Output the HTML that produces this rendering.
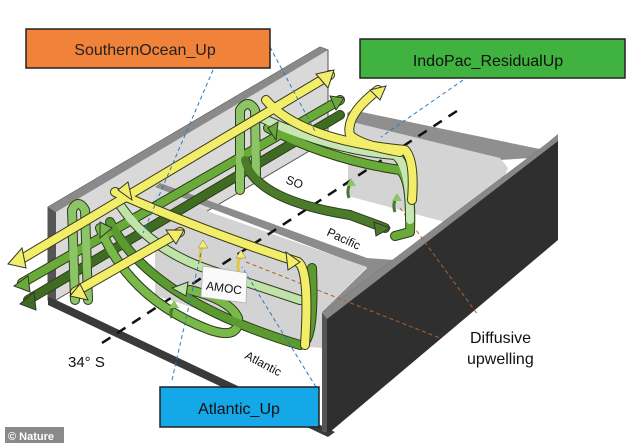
<!DOCTYPE html>
<html><head><meta charset="utf-8"><style>
html,body{margin:0;padding:0;background:#fff;}
svg{display:block;font-family:"Liberation Sans",sans-serif;}
</style></head><body>
<svg width="634" height="443" viewBox="0 0 634 443" xmlns="http://www.w3.org/2000/svg">
<rect width="634" height="443" fill="#fff"/>
<!-- back-left wall -->
<polygon points="48,207 320,47 328,50 328,140 56,300 48,300" fill="#d9d9d9" stroke="#555" stroke-width="1"/>
<polygon points="48,207 320,47 328,50 56,212" fill="#8a8a8a"/>
<polygon points="48,207 56,212 56,305 48,300" fill="#555"/>
<!-- bottom dark strip -->
<polygon points="48,297 56,300 335,432 328,437 48,305" fill="#3a3a3a"/>
<!-- pacific back block -->
<polygon points="347,113 352,110 525,146 540,149 558,134 558,140 530,158 500,160 348,121" fill="#8f8f8f"/>
<polygon points="348,121 500,158 508,168 504,178 445,222 348,196" fill="#d4d4d4"/>
<!-- divider top -->
<polygon points="155,187 160,183 367,258 420,262 440,255 327,316 322,312 367,268" fill="#8c8c8c"/>
<!-- divider face -->
<polygon points="155,193 367,267 322,312 322,348 310,347 155,295" fill="#d3d3d3"/>
<!-- right dark wall -->
<polygon points="322,313 558,135 558,240 330,432 322,432" fill="#2f2f2f"/>
<polygon points="322,313 558,135 558,141 327,319" fill="#888"/>
<polygon points="322,313 327,319 327,432 322,432" fill="#555"/>
<!-- dashed lines -->
<line x1="102" y1="343" x2="463" y2="107" stroke="#111" stroke-width="2.5" stroke-dasharray="10,8"/>
<g stroke="#b0602a" stroke-width="1" stroke-dasharray="4,3" fill="none">
<line x1="246" y1="262" x2="440" y2="338"/>
<line x1="400" y1="208" x2="478" y2="315"/>
</g>
<g fill="none" stroke-linecap="round" stroke-linejoin="round">
<g stroke="#2d3d1a" stroke-width="10">
<path d="M28,300 L340,115"/>
<path d="M22,283 L340,100"/>
<path d="M75,300 L72,210 Q78,198 85,210 L88,300"/>
<path d="M240,190 L240,110 Q248,98 255,110 L256,175"/>
<path d="M100,228 Q130,300 210,330 Q240,340 238,318 Q230,300 190,290"/>
<path d="M110,222 Q150,300 300,345 Q315,345 312,268"/>
<path d="M120,205 Q150,250 210,270 L300,300"/>
<path d="M245,160 Q255,200 350,215 L385,228"/>
<path d="M268,128 Q330,160 400,170 Q412,180 410,232 L395,236"/>
<path d="M262,118 Q330,150 395,155 Q410,165 410,220"/>
</g>
<g stroke-width="8">
<path d="M28,300 L340,115" stroke="#3f6b22"/>
<path d="M22,283 L340,100" stroke="#6aaa38"/>
<path d="M75,300 L72,210 Q78,198 85,210 L88,300" stroke="#8cc466"/>
<path d="M240,190 L240,110 Q248,98 255,110 L256,175" stroke="#8cc466"/>
<path d="M100,228 Q130,300 210,330 Q240,340 238,318 Q230,300 190,290" stroke="#79b94a"/>
<path d="M110,222 Q150,300 300,345 Q315,345 312,268" stroke="#5b9a30"/>
<path d="M120,205 Q150,250 210,270 L300,300" stroke="#bfe3a8"/>
<path d="M245,160 Q255,200 350,215 L385,228" stroke="#4a7a2a"/>
<path d="M268,128 Q330,160 400,170 Q412,180 410,232 L395,236" stroke="#6aaa38"/>
<path d="M262,118 Q330,150 395,155 Q410,165 410,220" stroke="#c7e6b4"/>
</g>
<g stroke="#3a3a1a" stroke-width="10">
<path d="M20,260 L330,75"/>
<path d="M75,292 L180,232"/>
<path d="M115,192 Q200,230 298,262 Q310,270 305,345"/>
<path d="M266,100 Q300,140 405,150 Q415,160 412,200"/>
<path d="M378,90 Q345,115 350,135 Q360,145 400,152"/>
</g>
<g stroke="#f3ee6a" stroke-width="8">
<path d="M20,260 L330,75"/>
<path d="M75,292 L180,232"/>
<path d="M115,192 Q200,230 298,262 Q310,270 305,345" />
<path d="M266,100 Q300,140 405,150 Q415,160 412,200"/>
<path d="M378,90 Q345,115 350,135 Q360,145 400,152"/>
</g>
</g>
<g stroke="#333" stroke-width="1">
<polygon points="8,264 22,248 26,268" fill="#f3ee6a"/>
<polygon points="334,70 316,74 328,88" fill="#f3ee6a"/>
<polygon points="184,230 166,230 176,244" fill="#f3ee6a"/>
<polygon points="70,296 80,284 88,300" fill="#f3ee6a"/>
<polygon points="300,262 286,252 288,270" fill="#f3ee6a"/>
<polygon points="386,86 370,90 380,100" fill="#f3ee6a"/>
<polygon points="118,190 128,182 132,200" fill="#f3ee6a"/>
<polygon points="14,286 28,276 30,292" fill="#6aaa38"/>
<polygon points="20,304 34,292 36,310" fill="#3f6b22"/>
<polygon points="344,98 330,96 336,110" fill="#6aaa38"/>
<polygon points="390,228 374,222 376,236" fill="#4a7a2a"/>
<polygon points="268,128 278,122 276,140" fill="#6aaa38"/>
<polygon points="100,222 112,228 100,238" fill="#79b94a"/>
<polygon points="172,288 188,282 186,296" fill="#bfe3a8"/>
</g>
<g stroke="#4a7a2a" stroke-width="3" fill="none">
<path d="M172,318 q-3,-6 2,-12"/><path d="M349,198 q-3,-8 2,-16"/><path d="M395,212 q-3,-8 2,-16"/>
</g>
<g fill="#8cc466"><polygon points="174,300 169,308 179,308"/><polygon points="351,178 346,186 356,186"/><polygon points="397,193 392,201 402,201"/></g>
<g stroke="#e0c840" stroke-width="3" fill="none"><path d="M201,262 q-3,-8 2,-16"/><path d="M239,272 q-3,-8 2,-16"/></g>
<g fill="#f3ee6a" stroke="#777" stroke-width=".5"><polygon points="203,240 198,248 208,248"/><polygon points="241,250 236,258 246,258"/></g>
<g stroke="#2a7ac0" stroke-width="1" stroke-dasharray="4,3" fill="none">
<line x1="270" y1="47" x2="316" y2="133"/>
<line x1="213" y1="70" x2="143" y2="233"/>
<line x1="463" y1="80" x2="381" y2="137"/>
<line x1="172" y1="380" x2="201" y2="253"/>
<line x1="316" y1="387" x2="242" y2="267"/>
</g>
<polygon points="203,266 247,273 246,303 201,297" fill="#fafafa" stroke="#aaa" stroke-width=".7"/>
<text x="224" y="292" font-size="12" text-anchor="middle" transform="rotate(8 224 288)" fill="#111">AMOC</text>
<text x="285" y="183" font-size="12" transform="rotate(20 285 183)" fill="#111">SO</text>
<text x="326" y="235" font-size="12" transform="rotate(25 326 235)" fill="#111">Pacific</text>
<text x="244" y="358" font-size="12" transform="rotate(28 244 358)" fill="#111">Atlantic</text>
<text x="68" y="367" font-size="15" fill="#111">34° S</text>
<text x="470" y="343" font-size="16" fill="#111">Diffusive</text>
<text x="467" y="364" font-size="16" fill="#111">upwelling</text>
<rect x="26" y="29" width="244" height="39" fill="#f0823a" stroke="#222" stroke-width="1.5"/>
<text x="145" y="55" font-size="16" text-anchor="middle" fill="#222">SouthernOcean_Up</text>
<rect x="360" y="39" width="265" height="39" fill="#3fb23f" stroke="#222" stroke-width="1.5"/>
<text x="488" y="66" font-size="16" text-anchor="middle" fill="#111">IndoPac_ResidualUp</text>
<rect x="160" y="387" width="159" height="40" fill="#14a8e8" stroke="#222" stroke-width="1.5"/>
<text x="239" y="414" font-size="16" text-anchor="middle" fill="#111">Atlantic_Up</text>
<rect x="5" y="427" width="59" height="16" fill="#8a8a8a"/>
<text x="8" y="440" font-size="11" font-weight="bold" fill="#fff">© Nature</text>
</svg>
</body></html>
